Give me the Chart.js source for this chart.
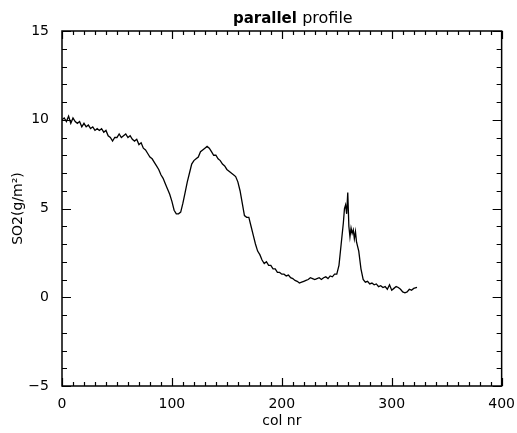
<!DOCTYPE html>
<html>
<head>
<meta charset="utf-8">
<script src="https://cdn.jsdelivr.net/npm/chart.js@4"></script>
<style>
  body { margin: 0; background: #fff; }
  canvas { display: block; }
</style>
</head>
<body>
<canvas id="profileChart" width="517" height="433"></canvas>
<script>
// column numbers and SO2 values
const colNr = [
    0, 2, 4, 6, 8, 10, 12, 14, 16, 18, 20, 22, 24, 26, 28, 30, 32, 34, 36, 38,
    40, 42, 44, 46, 48, 50, 52, 54, 56, 58, 60, 62, 64, 66, 68, 70, 72, 74, 76, 78,
    80, 82, 84, 86, 88, 90, 92, 94, 96, 98, 100, 102, 104, 106, 108, 110, 112, 114, 116, 118,
    120, 122, 124, 126, 128, 130, 132, 134, 136, 138, 140, 142, 144, 146, 148, 150, 152, 154, 156, 158,
    160, 162, 164, 166, 168, 170, 172, 174, 176, 178, 180, 182, 184, 186, 188, 190, 192, 194, 196, 198,
    200, 202, 204, 206, 208, 210, 212, 214, 216, 218, 220, 222, 224, 226, 228, 230, 232, 234, 236, 238,
    240, 242, 244, 246, 248, 250, 252, 254, 256, 257, 258, 259, 260, 261, 262, 263, 264, 265, 266, 267,
    268, 270, 272, 274, 276, 278, 280, 282, 284, 286, 288, 290, 292, 294, 296, 298, 300, 302, 304, 306,
    308, 310, 312, 314, 316, 318, 320, 323
];
const so2 = [
    10.0, 10.1, 9.9, 10.2, 9.8, 10.1, 9.9, 9.8, 9.9, 9.6, 9.8, 9.6, 9.7, 9.5, 9.6, 9.4, 9.5, 9.4, 9.5, 9.3,
    9.4, 9.1, 9.0, 8.8, 9.0, 9.0, 9.2, 9.0, 9.1, 9.2, 9.0, 9.1, 8.9, 8.8, 8.9, 8.6, 8.7, 8.4, 8.3, 8.1,
    7.9, 7.8, 7.6, 7.4, 7.2, 6.9, 6.7, 6.4, 6.1, 5.8, 5.4, 4.9, 4.7, 4.7, 4.8, 5.3, 5.9, 6.5, 7.0, 7.5,
    7.7, 7.8, 7.9, 8.2, 8.3, 8.4, 8.5, 8.4, 8.2, 8.0, 8.0, 7.8, 7.7, 7.5, 7.4, 7.2, 7.1, 7.0, 6.9, 6.8,
    6.5, 6.0, 5.3, 4.6, 4.5, 4.5, 4.0, 3.5, 3.0, 2.6, 2.4, 2.1, 1.9, 2.0, 1.8, 1.8, 1.6, 1.6, 1.4, 1.4,
    1.3, 1.3, 1.2, 1.25, 1.1, 1.05, 0.95, 0.9, 0.8, 0.85, 0.9, 0.95, 1.0, 1.1, 1.05, 1.0, 1.05, 1.1, 1.0, 1.1,
    1.15, 1.05, 1.2, 1.15, 1.3, 1.3, 1.8, 3.0, 4.2, 5.0, 5.2, 4.7, 5.9, 4.0, 3.4, 3.9, 3.6, 3.8, 3.3, 3.7,
    3.1, 2.6, 1.6, 1.0, 0.85, 0.9, 0.75, 0.8, 0.7, 0.75, 0.6, 0.65, 0.55, 0.6, 0.45, 0.7, 0.4, 0.5, 0.6, 0.55,
    0.45, 0.3, 0.25, 0.3, 0.45, 0.4, 0.5, 0.55
];

const xMin = 0, xMax = 400, xMajor = 100, xMinor = 10;
const yMin = -5, yMax = 15, yMajor = 5, yMinor = 1;

const tickFont = { family: "DejaVu Sans", size: 14 };

// IDL style box with inward ticks on all four sides, plus the two-weight title
const boxPlugin = {
    id: "boxPlugin",
    afterDraw(chart) {
        const ctx = chart.ctx;
        const a = chart.chartArea;
        const x = chart.scales.x, y = chart.scales.y;
        ctx.save();
        ctx.strokeStyle = "#000";
        ctx.lineWidth = 1.5;
        ctx.strokeRect(a.left, a.top, a.right - a.left, a.bottom - a.top);
        ctx.lineWidth = 1.2;
        ctx.beginPath();
        for (let i = 0; i <= (xMax - xMin) / xMinor; i++) {
            const v = xMin + i * xMinor;
            const px = Math.round(x.getPixelForValue(v)) + 0.5;
            const len = v % xMajor === 0 ? 8 : 4;
            ctx.moveTo(px, a.bottom); ctx.lineTo(px, a.bottom - len);
            ctx.moveTo(px, a.top); ctx.lineTo(px, a.top + len);
        }
        for (let i = 0; i <= (yMax - yMin) / yMinor; i++) {
            const v = yMin + i * yMinor;
            const py = Math.round(y.getPixelForValue(v)) + 0.5;
            const len = v % yMajor === 0 ? 9 : 5;
            ctx.moveTo(a.left, py); ctx.lineTo(a.left + len, py);
            ctx.moveTo(a.right, py); ctx.lineTo(a.right - len, py);
        }
        ctx.stroke();

        // title
        const part1 = "parallel ", part2 = "profile";
        ctx.fillStyle = "#000";
        ctx.textBaseline = "alphabetic";
        ctx.font = "bold 15px 'DejaVu Sans'";
        const w1 = ctx.measureText(part1).width;
        ctx.font = "16px 'DejaVu Sans'";
        const w2 = ctx.measureText(part2).width;
        const cx = (a.left + a.right) / 2 + 11;
        let tx = cx - (w1 + w2) / 2;
        ctx.font = "bold 15px 'DejaVu Sans'";
        ctx.fillText(part1, tx, 23);
        ctx.font = "16px 'DejaVu Sans'";
        ctx.fillText(part2, tx + w1, 23);
        ctx.restore();
    }
};

const ctx = document.getElementById("profileChart").getContext("2d");
new Chart(ctx, {
    type: "line",
    data: {
        datasets: [{
            data: colNr.map((c, i) => ({ x: c, y: so2[i] })),
            borderColor: "#000",
            borderWidth: 1.3,
            pointRadius: 0,
            tension: 0,
            fill: false
        }]
    },
    options: {
        responsive: false,
        animation: false,
        layout: { padding: { top: 31, right: 15, left: 0, bottom: 0 } },
        plugins: {
            legend: { display: false },
            tooltip: { enabled: false }
        },
        scales: {
            x: {
                type: "linear",
                min: xMin,
                max: xMax,
                afterFit: s => { s.height = 47; },
                grid: { display: false },
                border: { display: false },
                ticks: { stepSize: xMajor, color: "#000", font: tickFont, padding: 2, maxRotation: 0 },
                title: {
                    display: true,
                    text: "col nr",
                    color: "#000",
                    font: { family: "DejaVu Sans", size: 14 },
                    padding: { top: 0, bottom: 3 }
                }
            },
            y: {
                min: yMin,
                max: yMax,
                afterFit: s => { s.width = 62; },
                grid: { display: false },
                border: { display: false },
                ticks: {
                    stepSize: yMajor, color: "#000", font: tickFont, padding: 5,
                    callback: v => String(v).replace("-", "\u2212")
                },
                title: {
                    display: true,
                    text: "SO2(g/m²)",
                    color: "#000",
                    font: { family: "DejaVu Sans", size: 14 },
                    padding: { top: 10, bottom: 0 }
                }
            }
        }
    },
    plugins: [boxPlugin]
});
</script>
</body>
</html>
